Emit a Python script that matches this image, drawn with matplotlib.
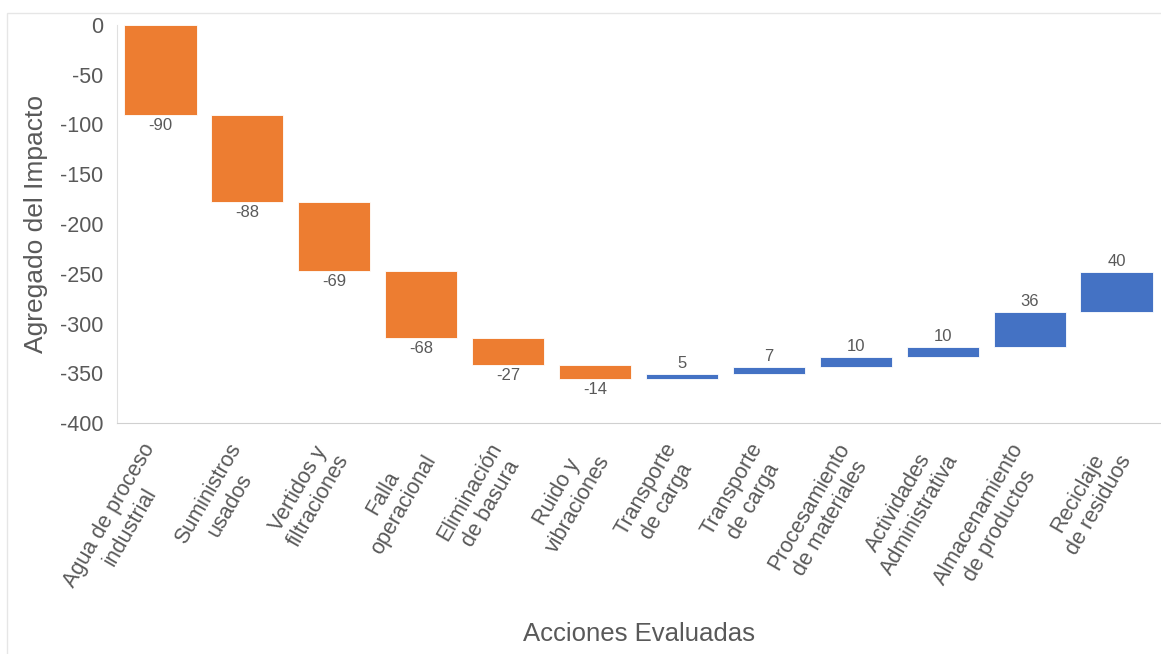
import numpy as np
import matplotlib.pyplot as plt
from matplotlib.patches import Rectangle

plt.rcParams['font.family'] = ['Liberation Sans', 'DejaVu Sans']

# data
categories = ['Agua de proceso\nindustrial', 'Suministros\nusados', 'Vertidos y\nfiltraciones',
              'Falla\noperacional', 'Eliminación\nde basura', 'Ruido y\nvibraciones',
              'Transporte\nde carga', 'Transporte\nde carga', 'Procesamiento\nde materiales',
              'Actividades\nAdministrativa', 'Almacenamiento\nde productos', 'Reciclaje\nde residuos']
values = [-90, -88, -69, -68, -27, -14, 5, 7, 10, 10, 36, 40]
y_ticks = [0, -50, -100, -150, -200, -250, -300, -350, -400]

orange = '#ED7D31'
blue = '#4472C4'
text_gray = '#595959'

values = np.array(values)
ends = np.cumsum(values)
starts = ends - values
x = np.arange(len(values))
colors = [orange if v < 0 else blue for v in values]

fig = plt.figure(figsize=(11.61, 6.54), dpi=100)
# outer chart frame
fig.patches.append(Rectangle((7 / 1161, -0.1), 1.2, (654 - 13) / 654 + 0.1, transform=fig.transFigure,
                             fill=False, edgecolor='#e6e6e6', linewidth=1))
ax = fig.add_axes([117 / 1161, 1 - 423 / 654, (1160 - 117) / 1161, (423 - 25) / 654])

ax.bar(x, values, bottom=starts, width=0.83, color=colors, edgecolor='white', linewidth=0.6)

for i, v in enumerate(values):
    if v < 0:
        ax.text(x[i], ends[i] - 3, str(v), ha='center', va='top', fontsize=12, color=text_gray)
    else:
        ax.text(x[i], ends[i] + 3, str(v), ha='center', va='bottom', fontsize=12, color=text_gray)

ax.set_xlim(-0.5, len(values) - 0.5)
ax.set_ylim(-400, 0)
ax.set_yticks(y_ticks)
ax.set_yticklabels([str(t) for t in y_ticks], fontsize=15.5, color=text_gray)
ax.set_xticks(x)
ax.set_xticklabels(categories, rotation=60, ha='right', va='center', rotation_mode='anchor',
                   fontsize=15.5, color=text_gray, multialignment='center')
ax.tick_params(axis='both', length=0)
ax.tick_params(axis='y', pad=10)
ax.tick_params(axis='x', pad=20)

for s in ['top', 'right']:
    ax.spines[s].set_visible(False)
ax.spines['left'].set_color('#e0e0e0')
ax.spines['bottom'].set_color('#d0d0d0')

ax.set_ylabel('Agregado del Impacto', fontsize=19, color=text_gray, labelpad=8)
fig.text(0.55, 0.012, 'Acciones Evaluadas', ha='center', va='bottom', fontsize=18.5, color=text_gray)

fig.savefig('out.png', dpi=100)
